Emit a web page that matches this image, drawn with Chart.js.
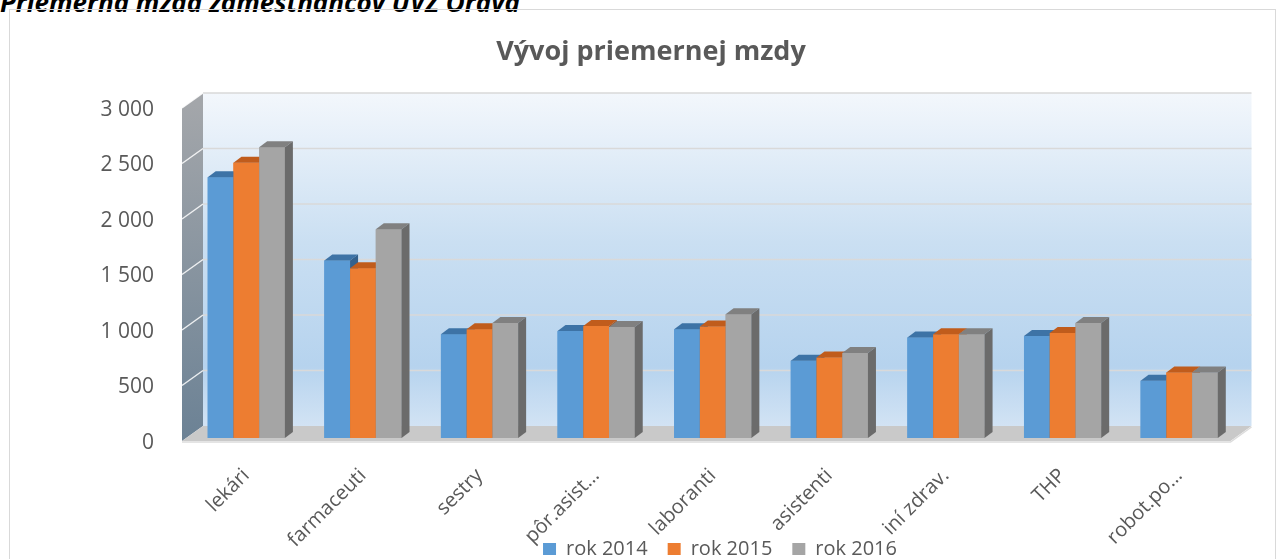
<!DOCTYPE html>
<html lang="sk">
<head>
<meta charset="utf-8">
<title>Vývoj priemernej mzdy</title>
<script src="https://cdn.jsdelivr.net/npm/chart.js@4.4.1/dist/chart.umd.min.js"></script>
<style>
    html, body { margin: 0; padding: 0; background: #fff; overflow: hidden; }
    #caption { position: absolute; left: 0; top: -16px; font: italic bold 26px "Open Sans", sans-serif; color: #000; white-space: nowrap; }
    #frame { position: absolute; left: 9px; top: 9px; width: 1265px; height: 600px; border: 1px solid #d9d9d9; }
    #wrap { position: absolute; left: 0; top: 0; width: 1285px; height: 569px; }
</style>
</head>
<body>
<div id="caption">Priemerná mzda zamestnancov ÚVZ Orava</div>
<div id="frame"></div>
<div id="wrap"><canvas id="mzdaChart"></canvas></div>
<script>
// Data odčítané z grafu
const kategorie = ['lekári', 'farmaceuti', 'sestry', 'pôr.asist…', 'laboranti', 'asistenti', 'iní zdrav.', 'THP', 'robot.po…'];
const rok2014 = [2350, 1600, 935, 965, 980, 695, 905, 920, 515];
const rok2015 = [2480, 1530, 980, 1010, 1005, 725, 935, 945, 590];
const rok2016 = [2620, 1880, 1035, 1000, 1115, 765, 935, 1035, 590];
const osY = { min: 0, max: 3000, krok: 500 };

// farby: predná stena, vrch, bok
const farby = [
    { front: '#5b9bd5', top: '#3d73a6', side: '#33618d' },
    { front: '#ed7d31', top: '#c05c1c', side: '#a9521a' },
    { front: '#a5a5a5', top: '#808080', side: '#6b6b6b' }
];
const textColor = '#595959';
const fontFamily = '"Open Sans", sans-serif';

// posun hĺbky (predná rovina / zadná stena / hrana stĺpca)
const PREDNA = { dx: -4, dy: 3 };
const ZADNA = { dx: 17, dy: -12 };
const HLBKA = { dx: 8, dy: -6 };

const formatTick = (v) => String(v).replace(/\B(?=(\d{3})+(?!\d))/g, ' ');

function poly(ctx, pts, fill) {
    ctx.beginPath();
    ctx.moveTo(pts[0][0], pts[0][1]);
    for (let i = 1; i < pts.length; i++) ctx.lineTo(pts[i][0], pts[i][1]);
    ctx.closePath();
    ctx.fillStyle = fill;
    ctx.fill();
}

// popisy osi X smú ísť až pod legendu, legenda je posunutá doprava ako v Exceli
const rozlozenie = {
    id: 'rozlozenie',
    afterLayout(chart) {
        chart.scales.x.bottom = chart.height;
        chart.legend.left += 138;
    }
};

// steny, podlaha a mriežka za stĺpcami
const steny3d = {
    id: 'steny3d',
    beforeDatasetsDraw(chart) {
        const { ctx, chartArea, scales: { y } } = chart;
        const y0 = y.getPixelForValue(osY.min);
        const yT = y.getPixelForValue(osY.max);
        const L = chartArea.left - 2;
        const R = chartArea.right - 3;
        ctx.save();

        // zadná stena
        const g = ctx.createLinearGradient(0, yT + ZADNA.dy, 0, y0 + ZADNA.dy);
        g.addColorStop(0, '#f3f7fc');
        g.addColorStop(0.45, '#cadff2');
        g.addColorStop(0.82, '#b6d3ee');
        g.addColorStop(1, '#d2e3f4');
        ctx.fillStyle = g;
        ctx.fillRect(L + ZADNA.dx, yT + ZADNA.dy, R - L, y0 - yT);

        // ľavá stena
        const gl = ctx.createLinearGradient(0, yT, 0, y0);
        gl.addColorStop(0, '#a3a6aa');
        gl.addColorStop(1, '#6c8295');
        poly(ctx, [[L + PREDNA.dx, yT + PREDNA.dy], [L + ZADNA.dx, yT + ZADNA.dy], [L + ZADNA.dx, y0 + ZADNA.dy], [L + PREDNA.dx, y0 + PREDNA.dy]], gl);

        // podlaha
        poly(ctx, [[L + PREDNA.dx, y0 + PREDNA.dy], [R + PREDNA.dx, y0 + PREDNA.dy], [R + ZADNA.dx, y0 + ZADNA.dy], [L + ZADNA.dx, y0 + ZADNA.dy]], '#c9c9c9');
        ctx.strokeStyle = '#dcdcdc';
        ctx.lineWidth = 1.5;
        ctx.beginPath();
        ctx.moveTo(L + PREDNA.dx, y0 + PREDNA.dy + 1);
        ctx.lineTo(R + PREDNA.dx, y0 + PREDNA.dy + 1);
        ctx.lineTo(R + ZADNA.dx, y0 + ZADNA.dy + 1);
        ctx.stroke();

        // mriežka
        y.ticks.forEach(t => {
            if (t.value === osY.min) return;
            const py = y.getPixelForValue(t.value);
            ctx.strokeStyle = '#d9d9d9';
            ctx.lineWidth = 1.5;
            ctx.beginPath();
            ctx.moveTo(L + ZADNA.dx, py + ZADNA.dy);
            ctx.lineTo(R + ZADNA.dx, py + ZADNA.dy);
            ctx.stroke();
            ctx.strokeStyle = 'rgba(255,255,255,0.85)';
            ctx.beginPath();
            ctx.moveTo(L + PREDNA.dx, py + PREDNA.dy);
            ctx.lineTo(L + ZADNA.dx, py + ZADNA.dy);
            ctx.stroke();
        });
        ctx.restore();
    }
};

// stĺpce s vrchom a bokom, zľava doprava kvôli prekrytiu
const stlpce3d = {
    id: 'stlpce3d',
    afterDatasetsDraw(chart) {
        const { ctx } = chart;
        const metas = chart.data.datasets.map((d, i) => chart.getDatasetMeta(i));
        ctx.save();
        kategorie.forEach((k, j) => {
            metas.forEach((meta, i) => {
                const el = meta.data[j];
                const f = farby[i];
                const l = el.x - el.width / 2, r = el.x + el.width / 2;
                const t = el.y, b = el.base;
                poly(ctx, [[l, t], [r, t], [r, b], [l, b]], f.front);
                poly(ctx, [[l, t], [l + HLBKA.dx, t + HLBKA.dy], [r + HLBKA.dx, t + HLBKA.dy], [r, t]], f.top);
                poly(ctx, [[r, t], [r + HLBKA.dx, t + HLBKA.dy], [r + HLBKA.dx, b + HLBKA.dy], [r, b]], f.side);
            });
        });
        ctx.restore();
    }
};

new Chart(document.getElementById('mzdaChart').getContext('2d'), {
    type: 'bar',
    data: {
        labels: kategorie,
        datasets: [
            { label: 'rok 2014', data: rok2014, backgroundColor: farby[0].front, borderWidth: 0 },
            { label: 'rok 2015', data: rok2015, backgroundColor: farby[1].front, borderWidth: 0 },
            { label: 'rok 2016', data: rok2016, backgroundColor: farby[2].front, borderWidth: 0 }
        ]
    },
    options: {
        responsive: true,
        maintainAspectRatio: false,
        animation: false,
        events: [],
        datasets: { bar: { barPercentage: 1, categoryPercentage: 0.662 } },
        layout: { padding: { left: 64.5, right: 47.5, top: 0, bottom: 0 } },
        plugins: {
            title: {
                display: true,
                text: 'Vývoj priemernej mzdy',
                color: textColor,
                font: { family: fontFamily, size: 27, weight: 'bold' },
                padding: { top: 35.8, bottom: 36.8 }
            },
            legend: {
                position: 'bottom',
                labels: {
                    color: textColor,
                    font: { family: fontFamily, size: 20 },
                    boxWidth: 13,
                    boxHeight: 12,
                    padding: 20
                }
            },
            tooltip: { enabled: false }
        },
        scales: {
            x: {
                grid: { display: false, drawTicks: false },
                border: { display: false },
                ticks: {
                    color: textColor,
                    font: { family: fontFamily, size: 20 },
                    minRotation: 45,
                    maxRotation: 45,
                    autoSkip: false,
                    padding: 26
                },
                afterFit: (scale) => { scale.height = 81; }
            },
            y: {
                min: osY.min,
                max: osY.max,
                grid: { display: false, drawTicks: false },
                border: { display: false },
                ticks: {
                    stepSize: osY.krok,
                    color: textColor,
                    font: { family: fontFamily, size: 21 },
                    padding: 34,
                    labelOffset: 5,
                    callback: (v) => formatTick(v)
                },
                afterFit: (scale) => { scale.width = 123.5; }
            }
        }
    },
    plugins: [rozlozenie, steny3d, stlpce3d]
});
</script>
</body>
</html>
